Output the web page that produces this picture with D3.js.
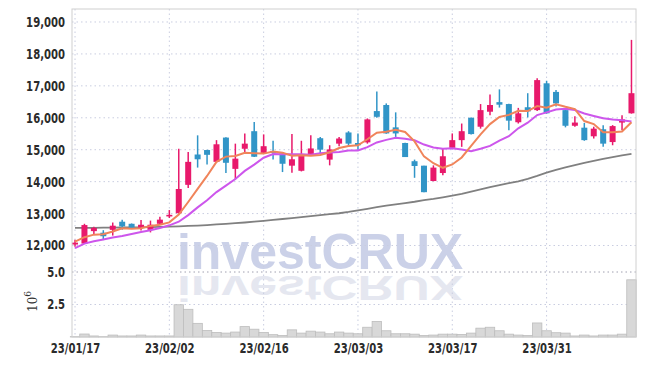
<!DOCTYPE html>
<html>
<head>
<meta charset="utf-8">
<script src="https://cdn.jsdelivr.net/npm/d3@7"></script>
<style>
	body { margin: 0; background: #ffffff; }
	svg text { font-family: "DejaVu Sans Condensed", sans-serif; }
</style>
</head>
<body>
<svg id="chart" width="645" height="366"></svg>
<script>
//Trading days shown on the chart (yy/mm/dd)
const DATES = ["23/01/17", "23/01/18", "23/01/19", "23/01/20", "23/01/25", "23/01/26", "23/01/27", "23/01/30", "23/01/31", "23/02/01",
	"23/02/02", "23/02/03", "23/02/06", "23/02/07", "23/02/08", "23/02/09", "23/02/10", "23/02/13", "23/02/14", "23/02/15",
	"23/02/16", "23/02/17", "23/02/20", "23/02/21", "23/02/22", "23/02/23", "23/02/24", "23/02/27", "23/02/28", "23/03/02",
	"23/03/03", "23/03/06", "23/03/07", "23/03/08", "23/03/09", "23/03/10", "23/03/13", "23/03/14", "23/03/15", "23/03/16",
	"23/03/17", "23/03/20", "23/03/21", "23/03/22", "23/03/23", "23/03/24", "23/03/27", "23/03/28", "23/03/29", "23/03/30",
	"23/03/31", "23/04/03", "23/04/04", "23/04/05", "23/04/06", "23/04/07", "23/04/10", "23/04/11", "23/04/12", "23/04/13"];

const OPEN = [12030, 12060, 12450, 12400, 12490, 12745, 12680, 12550, 12490, 12680,
	12910, 13010, 13900, 14850, 14990, 14620, 15380, 14400, 15030, 15580,
	14900, 14960, 14880, 14500, 14340, 14850, 15360, 14690, 15190, 15540,
	15210, 15230, 16210, 16400, 15700, 15210, 14640, 14500, 14020, 14270,
	15060, 15300, 16000, 15720, 16190, 16490, 16430, 15860, 16330, 16240,
	17080, 16810, 16240, 15750, 15690, 15420, 15640, 15240, 15850, 16140];
const HIGH = [12180, 12680, 12590, 12480, 12720, 12810, 12690, 12800, 12780, 12900,
	13110, 15030, 14930, 15450, 15000, 15300, 15390, 15190, 15510, 15870,
	15480, 15280, 14890, 15490, 15280, 15450, 15400, 15140, 15400, 15580,
	15510, 15980, 16820, 16450, 16170, 15220, 14690, 14500, 14510, 15040,
	15510, 15820, 16010, 16430, 16730, 16890, 16440, 16310, 16770, 17240,
	17160, 16870, 16270, 16050, 15840, 15720, 15770, 15770, 16080, 18440];
const LOW = [11960, 12050, 12340, 12170, 12310, 12490, 12520, 12470, 12410, 12650,
	12860, 13000, 13800, 14440, 14540, 14600, 14270, 14070, 14880, 14770,
	14880, 14690, 14300, 14280, 14320, 14830, 14900, 14510, 15110, 15090,
	15000, 15190, 16000, 15500, 15400, 14770, 14120, 13670, 14010, 14200,
	15030, 15090, 15480, 15660, 16080, 16320, 15610, 15820, 16010, 16210,
	16130, 16350, 15700, 15720, 15280, 15350, 15090, 15140, 15610, 16130];
const CLOSE = [12090, 12640, 12550, 12290, 12620, 12600, 12550, 12650, 12650, 12810,
	12960, 13770, 14620, 14700, 14840, 15170, 14590, 14720, 15190, 14780,
	15110, 14900, 14560, 14700, 14860, 15040, 15000, 15010, 15350, 15190,
	15140, 15950, 16030, 15510, 15510, 14770, 14490, 13670, 14440, 14795,
	15300, 15580, 15490, 16240, 16400, 16410, 15910, 16140, 16200, 17180,
	16140, 16450, 15750, 15850, 15300, 15660, 15190, 15740, 15950, 16770];

//Volume in millions of shares
const VOLUME = [0.03, 0.23, 0.08, 0.03, 0.15, 0.08, 0.08, 0.15, 0.08, 0.08,
	0.08, 2.48, 2.13, 1.05, 0.5, 0.35, 0.3, 0.38, 0.8, 0.6,
	0.35, 0.18, 0.12, 0.55, 0.3, 0.45, 0.38, 0.25, 0.38, 0.3,
	0.25, 0.75, 1.2, 0.48, 0.25, 0.25, 0.22, 0.12, 0.15, 0.22,
	0.22, 0.2, 0.3, 0.68, 0.75, 0.48, 0.22, 0.15, 0.12, 1.08,
	0.48, 0.33, 0.3, 0.08, 0.15, 0.08, 0.15, 0.15, 0.22, 4.4];

//Moving averages
const MA5 = [12120, 12260, 12340, 12350, 12438, 12540, 12522, 12542, 12614, 12652,
	12724, 12968, 13362, 13772, 14178, 14620, 14784, 14804, 14902, 14890,
	14878, 14940, 14908, 14810, 14826, 14812, 14832, 14922, 15052, 15118,
	15138, 15328, 15532, 15564, 15628, 15554, 15262, 14790, 14576, 14433,
	14539, 14757, 15121, 15481, 15802, 16024, 16090, 16220, 16212, 16368,
	16314, 16422, 16344, 16274, 15898, 15802, 15550, 15548, 15568, 15862];
const MA10 = [11920, 12060, 12130, 12190, 12250, 12300, 12360, 12420, 12480, 12545,
	12632, 12745, 12952, 13193, 13415, 13672, 13876, 14083, 14337, 14534,
	14749, 14862, 14856, 14856, 14858, 14845, 14886, 14915, 14931, 14972,
	14975, 15080, 15227, 15308, 15373, 15346, 15295, 15161, 15070, 15031,
	15047, 15010, 14956, 15029, 15118, 15282, 15424, 15671, 15847, 16085,
	16169, 16256, 16282, 16243, 16133, 16058, 15986, 15946, 15921, 15880];
const MA60 = [12550, 12552, 12555, 12558, 12560, 12563, 12566, 12570, 12575, 12582,
	12590, 12600, 12612, 12625, 12640, 12660, 12680, 12700, 12720, 12745,
	12770, 12800, 12830, 12860, 12890, 12920, 12950, 12980, 13010, 13050,
	13100, 13150, 13200, 13250, 13290, 13330, 13370, 13420, 13460, 13510,
	13560, 13620, 13690, 13760, 13830, 13890, 13950, 14010, 14090, 14180,
	14280, 14370, 14450, 14520, 14590, 14650, 14710, 14770, 14820, 14870];

const PRICE_TICKS = [12000, 13000, 14000, 15000, 16000, 17000, 18000, 19000];
const VOLUME_TICKS = [2.5, 5.0];
const DATE_TICK_EVERY = 10;

const LEFT = 72;
const RIGHT = 636;
const TOP = 9;
const SPLIT = 272;
const BOTTOM = 337;
const UP_COLOR = "#e8196b";
const DOWN_COLOR = "#3195c7";
const GRID_COLOR = "#c9cde0";
const LABEL_FONT = "'DejaVu Sans Condensed', 'Liberation Sans', sans-serif";
const LABEL_SQUEEZE = 0.8; //The original tick font is narrower than anything installed

const svg = d3.select("#chart");
const idx = d3.range(DATES.length);

//Scales: candles sit on an index axis, one slot per trading day
const x = d3.scaleLinear().domain([-0.32, DATES.length - 0.52]).range([LEFT, RIGHT]);
const step = x(1) - x(0);
const y = d3.scaleLinear().domain([11170, 19407]).range([SPLIT, TOP]);
const yv = d3.scaleLinear().domain([0, 5]).range([BOTTOM, SPLIT]);

//Watermark and its mirrored reflection
svg.append("text")
	.attr("x", 320).attr("y", 269)
	.attr("text-anchor", "middle")
	.style("font-family", "'Liberation Sans', Arial, sans-serif")
	.style("font-weight", "bold")
	.style("font-size", "50px")
	.attr("fill", "#cbd1e8")
	.text("investCRUX");
svg.append("text")
	.attr("transform", "translate(320,276) scale(1,-0.72)")
	.attr("text-anchor", "middle")
	.style("font-family", "'Liberation Sans', Arial, sans-serif")
	.style("font-weight", "bold")
	.style("font-size", "50px")
	.attr("fill", "#e5e7f0")
	.text("investCRUX");

//Grid lines
const grid = svg.append("g");
grid.selectAll(".hgrid")
	.data(PRICE_TICKS)
	.enter()
	.append("line")
	.attr("x1", LEFT).attr("x2", RIGHT)
	.attr("y1", d => y(d)).attr("y2", d => y(d))
	.attr("stroke", GRID_COLOR)
	.attr("stroke-dasharray", "1.5,3");
grid.selectAll(".vgrid")
	.data(idx.filter(i => i % DATE_TICK_EVERY == 0))
	.enter()
	.append("line")
	.attr("x1", d => x(d)).attr("x2", d => x(d))
	.attr("y1", TOP).attr("y2", BOTTOM)
	.attr("stroke", GRID_COLOR)
	.attr("stroke-dasharray", "1.5,3");
grid.selectAll(".vlgrid")
	.data(VOLUME_TICKS)
	.enter()
	.append("line")
	.attr("x1", LEFT).attr("x2", RIGHT)
	.attr("y1", d => yv(d)).attr("y2", d => yv(d))
	.attr("stroke", d => d == 5 ? "#a0a0b0" : GRID_COLOR)
	.attr("stroke-dasharray", "1.5,3");

//Volume bars
svg.append("g").selectAll("rect")
	.data(idx)
	.enter()
	.append("rect")
	.attr("x", i => x(i) - step / 2)
	.attr("width", step)
	.attr("y", i => yv(VOLUME[i]))
	.attr("height", i => BOTTOM - yv(VOLUME[i]))
	.attr("fill", "#d8d8d8")
	.attr("stroke", "#bdbdbd")
	.attr("stroke-width", 0.8);

//Moving average lines
function draw_ma(values, color, width)
{
	const line = d3.line().x((d, i) => x(i)).y(d => y(d));
	svg.append("path")
		.datum(values)
		.attr("d", line)
		.attr("fill", "none")
		.attr("stroke", color)
		.attr("stroke-width", width);
}
draw_ma(MA60, "#808080", 1.8);

//Candles
const candles = svg.append("g").selectAll("g")
	.data(idx)
	.enter()
	.append("g");
candles.append("line")
	.attr("x1", i => x(i)).attr("x2", i => x(i))
	.attr("y1", i => y(HIGH[i])).attr("y2", i => y(LOW[i]))
	.attr("stroke", i => CLOSE[i] >= OPEN[i] ? UP_COLOR : DOWN_COLOR)
	.attr("stroke-width", 1.5);
candles.append("rect")
	.attr("x", i => x(i) - 3)
	.attr("width", 6)
	.attr("y", i => y(Math.max(OPEN[i], CLOSE[i])))
	.attr("height", i => Math.max(1, Math.abs(y(OPEN[i]) - y(CLOSE[i]))))
	.attr("fill", i => CLOSE[i] >= OPEN[i] ? UP_COLOR : DOWN_COLOR);

draw_ma(MA10, "#cd56ec", 2);
draw_ma(MA5, "#f0845a", 2);

//Frame
svg.append("rect")
	.attr("x", LEFT).attr("y", TOP)
	.attr("width", RIGHT - LEFT).attr("height", BOTTOM - TOP)
	.attr("fill", "none")
	.attr("stroke", "#d0d0d0");

//Axes
const price_axis = d3.axisLeft(y).tickValues(PRICE_TICKS).tickSize(0).tickPadding(7).tickFormat(d3.format(","));
const volume_axis = d3.axisLeft(yv).tickValues(VOLUME_TICKS).tickSize(0).tickPadding(7).tickFormat(d3.format(".1f"));
const date_axis = d3.axisBottom(x)
	.tickValues(idx.filter(i => i % DATE_TICK_EVERY == 0))
	.tickSize(0).tickPadding(6)
	.tickFormat(i => DATES[i]);

for (const [axis, transform] of [[price_axis, "translate(" + LEFT + ",0)"], [volume_axis, "translate(" + LEFT + ",0)"], [date_axis, "translate(0," + BOTTOM + ")"]])
{
	const g = svg.append("g").attr("transform", transform).call(axis);
	g.select(".domain").remove();
	g.selectAll("text")
		.style("font-family", LABEL_FONT)
		.style("font-size", "14px")
		.style("font-weight", "bold")
		.attr("fill", "#2b2b2b")
		.each(function ()
		{
			//Squeeze each label horizontally to the narrow width of the original
			const len = this.getComputedTextLength();
			d3.select(this)
				.attr("textLength", len * LABEL_SQUEEZE)
				.attr("lengthAdjust", "spacingAndGlyphs");
		});
}

//Volume unit label
const unit = svg.append("text")
	.attr("transform", "translate(37,312) rotate(-90)")
	.style("font-family", "'DejaVu Serif', serif")
	.style("font-size", "12px")
	.attr("fill", "#333");
unit.append("tspan").text("10");
unit.append("tspan").attr("dy", -6).style("font-size", "9px").text("6");
</script>
</body>
</html>
